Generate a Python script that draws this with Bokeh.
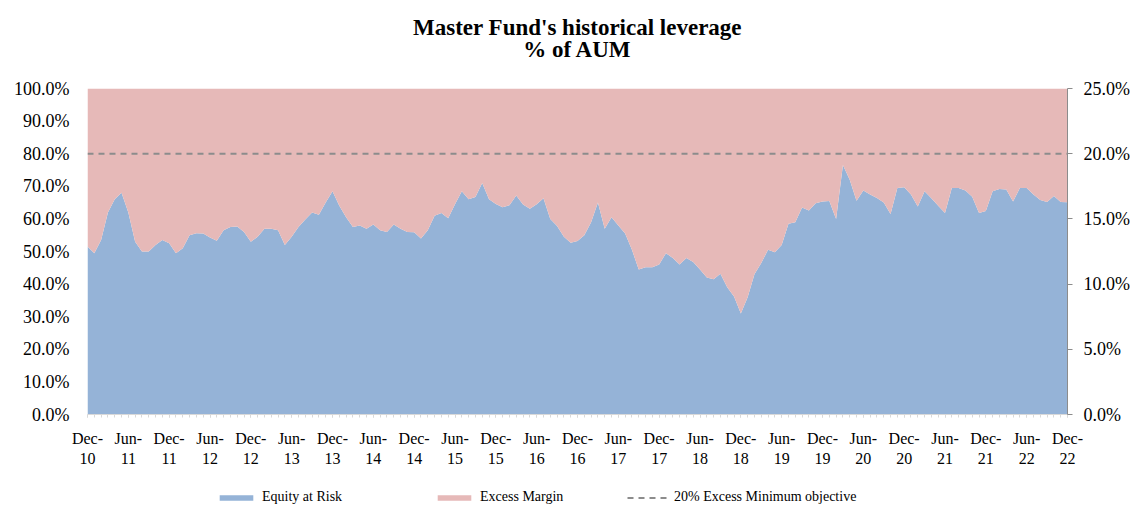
from bokeh.plotting import figure
from bokeh.layouts import column
from bokeh.models import (ColumnDataSource, LinearAxis, Range1d, FixedTicker,
                          NumeralTickFormatter, Legend, LegendItem, Label)
from bokeh.embed import file_html
from bokeh.resources import INLINE
import numpy as np

# ---- data (monthly Dec-10 .. Dec-22), % of AUM ----
equity_at_risk = [
    51.5, 49.5, 53.5, 62.0, 66.0, 68.0, 62.0, 53.0, 50.0, 50.0, 52.0, 53.5,
    52.5, 49.5, 51.0, 55.0, 55.6, 55.5, 54.3, 53.3, 56.5, 57.5, 57.7, 56.0,
    53.0, 54.5, 57.0, 57.0, 56.5, 52.0, 54.5, 57.5, 59.8, 62.0, 61.3, 65.0,
    68.5, 64.0, 60.5, 57.5, 58.0, 57.0, 58.3, 56.5, 56.0, 58.3, 57.0, 56.0,
    55.9, 54.0, 56.5, 61.0, 61.8, 60.2, 64.5, 68.5, 66.0, 66.7, 71.0, 66.0,
    64.6, 63.6, 64.2, 67.2, 64.4, 63.1, 64.5, 66.3, 60.0, 57.8, 54.5, 52.7,
    53.2, 55.0, 59.0, 65.0, 57.0, 60.5, 58.0, 55.5, 50.5, 44.5, 45.2, 45.2,
    46.0, 49.5, 48.0, 46.0, 48.0, 46.8, 44.5, 42.0, 41.5, 43.2, 39.0, 36.2,
    31.0, 36.0, 43.0, 46.5, 50.5, 49.8, 52.0, 58.5, 59.0, 63.5, 62.6, 64.8,
    65.3, 65.5, 60.0, 76.5, 72.0, 65.6, 68.7, 67.5, 66.4, 65.0, 61.5, 69.5,
    69.7, 67.5, 63.8, 68.5, 66.3, 64.0, 61.8, 69.5, 69.5, 68.7, 66.8, 61.8,
    62.4, 68.5, 69.2, 69.0, 65.3, 69.5, 69.5, 67.5, 65.8, 65.2, 67.0, 65.2,
    65.1,
]
total_aum = 100.0
objective_level = 80.0  # 20% excess minimum objective

tick_labels = ["Dec-\n10", "Jun-\n11", "Dec-\n11", "Jun-\n12", "Dec-\n12",
               "Jun-\n13", "Dec-\n13", "Jun-\n14", "Dec-\n14", "Jun-\n15",
               "Dec-\n15", "Jun-\n16", "Dec-\n16", "Jun-\n17", "Dec-\n17",
               "Jun-\n18", "Dec-\n18", "Jun-\n19", "Dec-\n19", "Jun-\n20",
               "Dec-\n20", "Jun-\n21", "Dec-\n21", "Jun-\n22", "Dec-\n22"]
left_ticks = [0.0, 0.1, 0.2, 0.3, 0.4, 0.5, 0.6, 0.7, 0.8, 0.9, 1.0]
right_ticks = [0.0, 0.05, 0.10, 0.15, 0.20, 0.25]
legend_labels = ["Equity at Risk", "Excess Margin",
                 "20% Excess Minimum objective"]
title_lines = ["Master Fund's historical leverage", "% of AUM"]

# ---- build ----
eq = np.array(equity_at_risk) / 100.0
excess = (total_aum - np.array(equity_at_risk)) / 100.0
months = np.arange(len(eq))
months_arr = [int(m) for m in months]
src = ColumnDataSource(dict(month=months, equity=eq, excess=excess,
                            objective=[objective_level / 100.0] * len(eq)))

FONT = "Liberation Serif"
BLUE = "#95b3d7"
PINK = "#e6b9b8"
DASH = "#8c8c8c"
FW = 980
BL, BR = 87, 63


def strip(h):
    f = figure(frame_width=FW, frame_height=h, output_backend="svg",
               toolbar_location=None, x_range=Range1d(0, 1),
               y_range=Range1d(2, 3), min_border_left=BL, min_border_right=BR,
               min_border_top=0, min_border_bottom=0, outline_line_color=None)
    f.axis.visible = False
    f.grid.visible = False
    return f


# ---- title strip ----
tf = strip(70)
tf.add_layout(Label(x=FW / 2, y=43, x_units="screen", y_units="screen",
                    text=title_lines[0], text_align="center",
                    text_baseline="middle", text_font=FONT,
                    text_font_size="23px", text_font_style="bold",
                    text_color="#000000"))
tf.add_layout(Label(x=FW / 2, y=21, x_units="screen", y_units="screen",
                    text=title_lines[1], text_align="center",
                    text_baseline="middle", text_font=FONT,
                    text_font_size="23px", text_font_style="bold",
                    text_color="#000000"))

# ---- main chart ----
p = figure(frame_width=FW, frame_height=326, output_backend="svg",
           toolbar_location=None,
           x_range=Range1d(0, len(eq) - 1), y_range=Range1d(0, 1),
           min_border_left=BL, min_border_right=BR, min_border_top=18,
           min_border_bottom=58, outline_line_color=None)
p.grid.visible = False

p.varea_stack(["equity", "excess"], x="month", source=src, color=[BLUE, PINK])
p.line(x="month", y="objective", source=src, line_color=DASH, line_width=2,
       line_dash="6 5")

ya = p.yaxis[0]
ya.ticker = FixedTicker(ticks=left_ticks)
ya.formatter = NumeralTickFormatter(format="0.0%")
ya.axis_line_color = None
ya.major_tick_line_color = None
ya.minor_tick_line_color = None
ya.major_label_text_font = FONT
ya.major_label_text_font_size = "18px"
ya.major_label_text_color = "#000000"
ya.major_label_standoff = 12

p.extra_y_ranges = {"right": Range1d(0, 0.25)}
ra = LinearAxis(y_range_name="right", ticker=FixedTicker(ticks=right_ticks),
                formatter=NumeralTickFormatter(format="0.0%"))
ra.axis_line_color = DASH
ra.major_tick_line_color = DASH
ra.major_tick_out = 5
ra.major_tick_in = 0
ra.minor_tick_line_color = None
ra.major_label_text_font = FONT
ra.major_label_text_font_size = "18px"
ra.major_label_text_color = "#000000"
ra.major_label_standoff = 11
p.add_layout(ra, "right")

xa = p.xaxis[0]
major = list(range(0, len(eq), 6))
xa.ticker = FixedTicker(ticks=major, minor_ticks=months_arr)
xa.major_label_overrides = {m: lab for m, lab in zip(major, tick_labels)}
xa.axis_line_color = "#d9d9d9"
xa.major_tick_line_color = "#d9d9d9"
xa.minor_tick_line_color = "#d9d9d9"
xa.major_tick_out = 3
xa.minor_tick_out = 3
xa.major_tick_in = 0
xa.minor_tick_in = 0
xa.major_label_text_font = FONT
xa.major_label_text_font_size = "16px"
xa.major_label_text_color = "#000000"
xa.major_label_standoff = 12

# ---- legend strip (one legend per entry, placed like the reference) ----
lf = strip(33)
l_eq, l_ex = lf.varea_stack(["equity", "excess"], x="month", source=src,
                            color=[BLUE, PINK])
l_obj = lf.line(x="month", y="objective", source=src, line_color=DASH,
                line_width=2, line_dash="6 5")
for lab, rend, xpos in zip(legend_labels, [l_eq, l_ex, l_obj], [128, 346, 540]):
    lg = Legend(items=[LegendItem(label=lab, renderers=[rend])],
                orientation="horizontal", location=(xpos, 0),
                border_line_color=None, background_fill_alpha=0,
                label_text_font=FONT, label_text_font_size="14px",
                label_text_color="#000000", label_height=14,
                glyph_width=42, glyph_height=7,
                label_standoff=5, margin=0, padding=0)
    lf.add_layout(lg, "center")

layout = column(tf, p, lf, spacing=0)
open("out.html", "w").write(file_html(layout, INLINE))
